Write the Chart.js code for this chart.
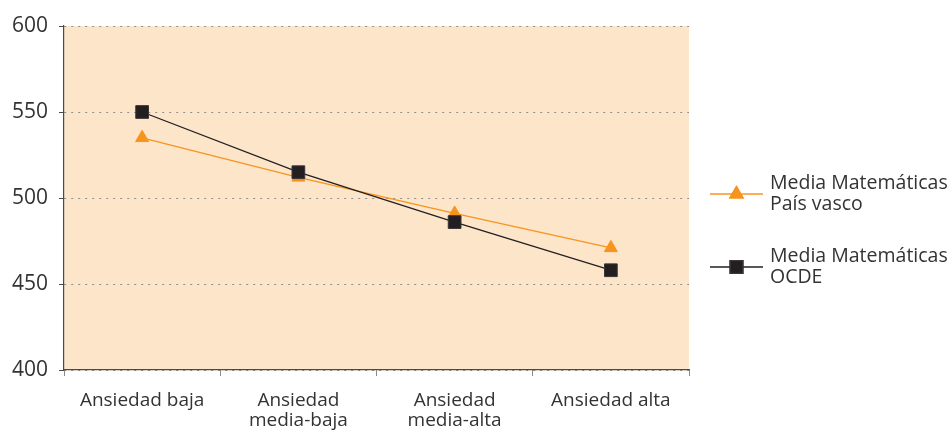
<!DOCTYPE html>
<html lang="es">
<head>
    <meta charset="UTF-8" />
    <title>Ansiedad y rendimiento en matemáticas</title>
    <script src="https://cdn.jsdelivr.net/npm/chart.js"></script>
    <style>
        html, body { margin: 0; padding: 0; background: #ffffff; }
        #wrap { width: 951px; height: 430px; position: relative; }
    </style>
</head>
<body>
    <div id="wrap">
        <canvas id="anxietyChart" width="951" height="430"></canvas>
    </div>

    <script>
        const categories = ["Ansiedad baja", ["Ansiedad", "media-baja"], ["Ansiedad", "media-alta"], "Ansiedad alta"];
        const paisVasco = [535, 512, 491, 471];
        const ocde = [550, 515, 486, 458];
        const seriesNames = [["Media Matemáticas", "País vasco"], ["Media Matemáticas", "OCDE"]];
        const yTicks = [400, 450, 500, 550, 600];

        const FONT = "'Open Sans', 'Noto Sans', sans-serif";
        const TEXT = "#333333";

        // peach background behind the plot only
        const plotBackground = {
            id: "plotBackground",
            beforeDraw(chart) {
                const { ctx, chartArea: a } = chart;
                ctx.save();
                ctx.fillStyle = "#fde5ca";
                ctx.fillRect(a.left, a.top, a.right - a.left, a.bottom - a.top);
                ctx.restore();
            }
        };

        // legend on the right with two-line labels
        const sideLegend = {
            id: "sideLegend",
            afterDraw(chart) {
                const { ctx, chartArea: a } = chart;
                const x0 = a.right + 21;
                const lineLen = 53;
                const centers = [a.top + 168, a.top + 241];
                chart.data.datasets.forEach((ds, i) => {
                    const y = centers[i];
                    ctx.save();
                    ctx.strokeStyle = ds.borderColor;
                    ctx.lineWidth = 1.3;
                    ctx.beginPath();
                    ctx.moveTo(x0, y);
                    ctx.lineTo(x0 + lineLen, y);
                    ctx.stroke();
                    Chart.helpers.drawPoint(ctx, {
                        pointStyle: ds.pointStyle,
                        radius: ds.pointRadius,
                        borderWidth: 1
                    }, x0 + lineLen / 2, y);
                    ctx.fillStyle = ds.pointBackgroundColor;
                    ctx.strokeStyle = ds.pointBorderColor;
                    ctx.fill();
                    ctx.stroke();
                    ctx.fillStyle = TEXT;
                    ctx.font = "19.5px " + FONT;
                    ctx.textBaseline = "middle";
                    ctx.textAlign = "left";
                    seriesNames[i].forEach((t, j) => {
                        ctx.fillText(t, x0 + lineLen + 7, y - 11 + j * 21);
                    });
                    ctx.restore();
                });
            }
        };

        new Chart(document.getElementById("anxietyChart"), {
            type: "line",
            data: {
                labels: categories,
                datasets: [
                    {
                        label: seriesNames[0].join(" "),
                        data: paisVasco,
                        borderColor: "#f7941d",
                        backgroundColor: "#f7941d",
                        pointBackgroundColor: "#f7941d",
                        pointBorderColor: "#f7941d",
                        pointStyle: "triangle",
                        pointRadius: 7.5,
                        pointBorderWidth: 1,
                        borderWidth: 1.3,
                        tension: 0,
                        order: 1
                    },
                    {
                        label: seriesNames[1].join(" "),
                        data: ocde,
                        borderColor: "#231f20",
                        backgroundColor: "#231f20",
                        pointBackgroundColor: "#231f20",
                        pointBorderColor: "#3a3536",
                        pointStyle: "rect",
                        pointRadius: 9,
                        pointBorderWidth: 1,
                        borderWidth: 1.3,
                        tension: 0,
                        order: 0
                    }
                ]
            },
            options: {
                responsive: false,
                animation: false,
                layout: { padding: { top: 26, right: 262, left: 0, bottom: 0 } },
                plugins: {
                    legend: { display: false },
                    tooltip: { enabled: false }
                },
                scales: {
                    x: {
                        offset: true,
                        grid: {
                            offset: true,
                            drawOnChartArea: false,
                            drawTicks: true,
                            tickLength: 6,
                            tickColor: "#8a8a8a"
                        },
                        border: { color: "#4a4a4a", width: 1.2 },
                        ticks: {
                            color: TEXT,
                            font: { family: FONT, size: 19, lineHeight: 1.08 },
                            padding: 14,
                            maxRotation: 0,
                            autoSkip: false
                        },
                        afterFit(scale) { scale.height = 60; }
                    },
                    y: {
                        min: 400,
                        max: 600,
                        afterBuildTicks(scale) { scale.ticks = yTicks.map(v => ({ value: v })); },
                        grid: {
                            color: "#8f8f8f",
                            lineWidth: 1,
                            tickLength: 5,
                            tickColor: "#4a4a4a",
                            tickBorderDash: []
                        },
                        border: { color: "#4a4a4a", width: 1.2, dash: [2, 5] },
                        ticks: {
                            color: TEXT,
                            font: { family: FONT, size: 21 },
                            padding: 11
                        },
                        afterFit(scale) { scale.width = 64; }
                    }
                }
            },
            plugins: [plotBackground, sideLegend]
        });
    </script>
</body>
</html>
